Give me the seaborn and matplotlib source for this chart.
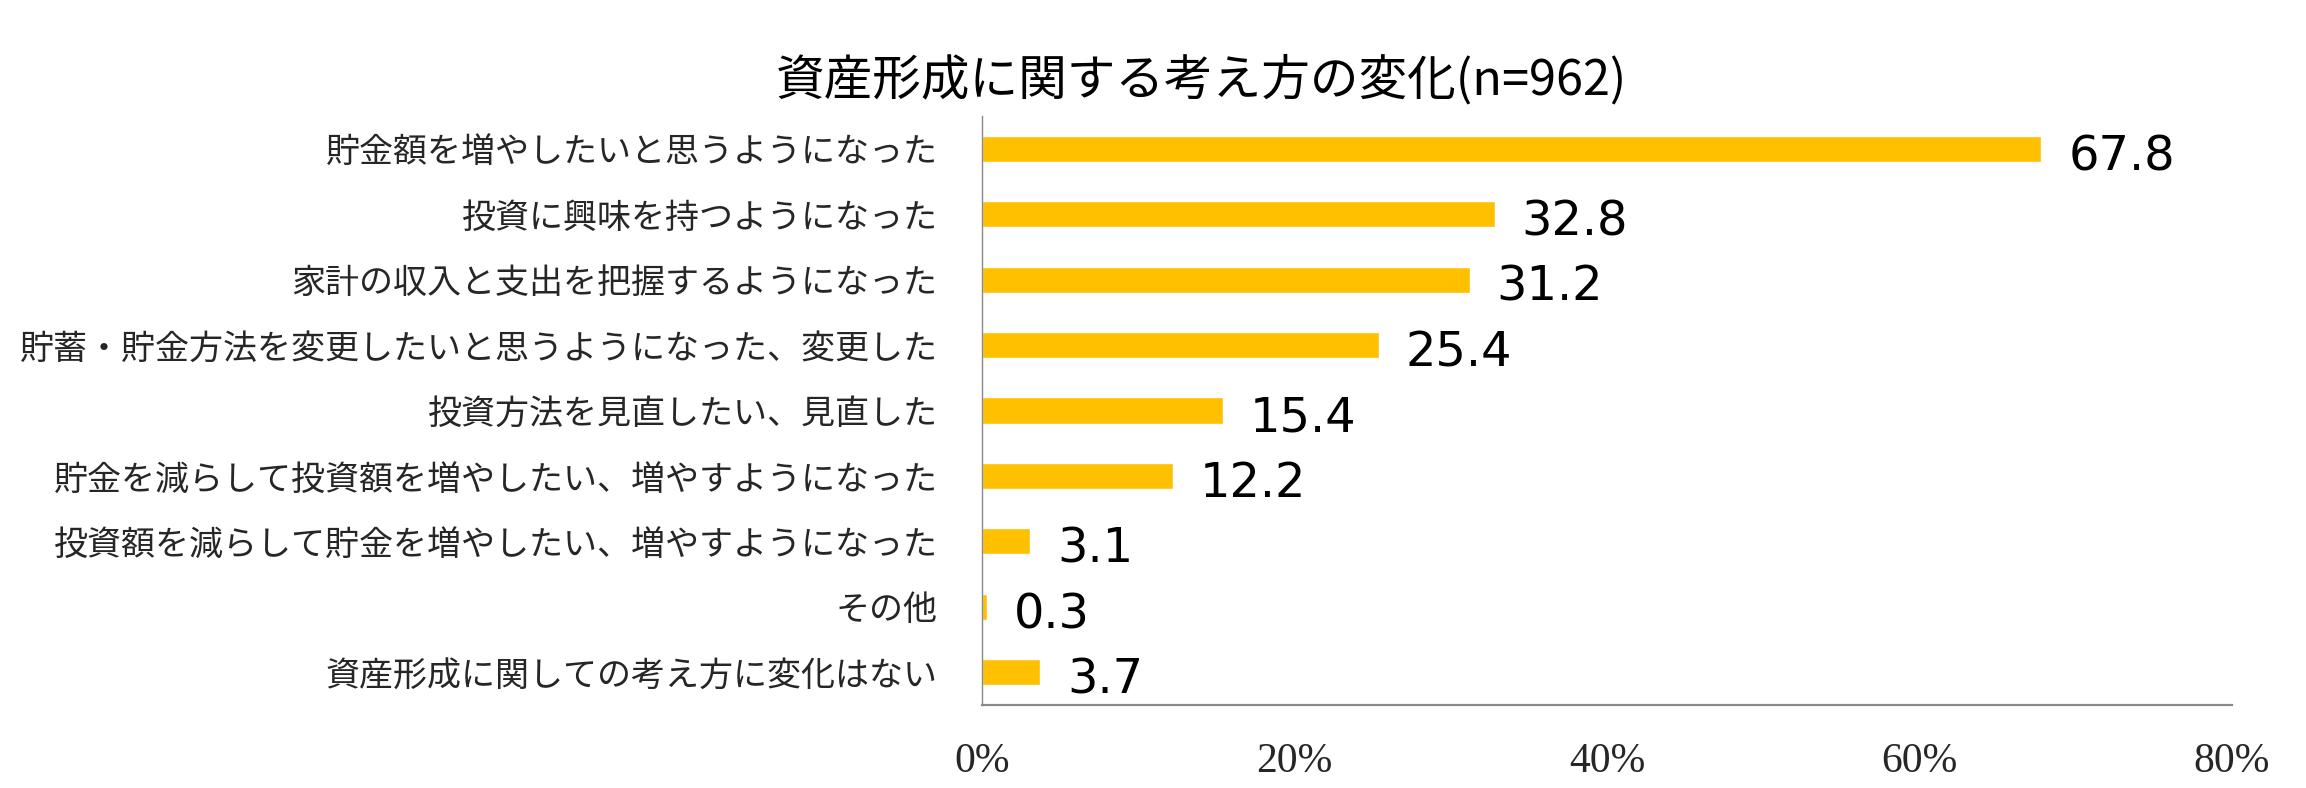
import matplotlib
matplotlib.use("Agg")
import matplotlib.pyplot as plt
import seaborn as sns
import pandas as pd

categories = [
    "貯金額を増やしたいと思うようになった",
    "投資に興味を持つようになった",
    "家計の収入と支出を把握するようになった",
    "貯蓄・貯金方法を変更したいと思うようになった、変更した",
    "投資方法を見直したい、見直した",
    "貯金を減らして投資額を増やしたい、増やすようになった",
    "投資額を減らして貯金を増やしたい、増やすようになった",
    "その他",
    "資産形成に関しての考え方に変化はない",
]
values = [67.8, 32.8, 31.2, 25.4, 15.4, 12.2, 3.1, 0.3, 3.7]
x_ticks = [0, 20, 40, 60, 80]
x_tick_labels = ["0%", "20%", "40%", "60%", "80%"]
title = "資産形成に関する考え方の変化(n=962)"

sns.set_theme(style="white")
plt.rcParams["font.family"] = ["Noto Sans CJK JP", "DejaVu Sans"]

df = pd.DataFrame({"category": categories, "value": values})

W, H = 2306, 788
fig = plt.figure(figsize=(W / 100, H / 100), dpi=100)
ax = fig.add_axes([982 / W, 1 - 705 / H, (2232 - 982) / W, (705 - 116) / H])

sns.barplot(data=df, y="category", x="value", orient="h", color="#FFC000",
            width=0.4, saturation=1, ax=ax)

ax.set_xlim(0, 80)
ax.set_ylim(len(categories) - 0.5, -0.5)
ax.set_xticks(x_ticks)
ax.set_xticklabels(x_tick_labels, family=["Liberation Serif"], fontsize=30)
ax.set_yticks(range(len(categories)))
ax.set_yticklabels(categories, fontsize=24.5)
ax.tick_params(axis="y", length=0, pad=32)
ax.tick_params(axis="x", length=0, pad=27)
ax.set_xlabel("")
ax.set_ylabel("")

for s in ["top", "right"]:
    ax.spines[s].set_visible(False)
ax.spines["left"].set_color("#898989")
ax.spines["left"].set_linewidth(1.0)
ax.spines["bottom"].set_color("#898989")
ax.spines["bottom"].set_linewidth(1.6)
ax.grid(False)

for i, v in enumerate(values):
    ax.annotate(f"{v:.1f}", xy=(v, i), xytext=(19.5, -2), textcoords="offset points",
                ha="left", va="center_baseline", fontsize=34.5,
                family=["DejaVu Sans"], color="black")

fig.text(1201 / W, 1 - 80 / H, title, ha="center", va="center", fontsize=35, color="black")

fig.savefig("out.png", dpi=100, facecolor="white")
